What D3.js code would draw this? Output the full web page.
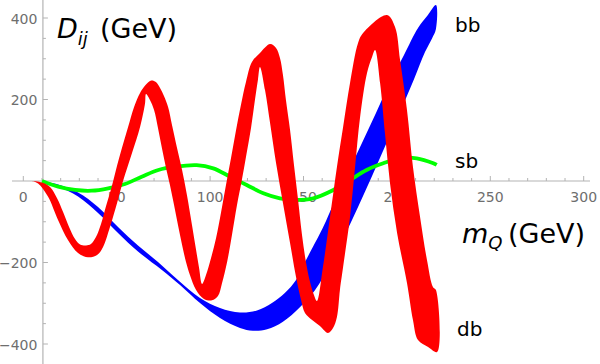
<!DOCTYPE html>
<html>
<head>
<meta charset="utf-8">
<script src="https://cdn.jsdelivr.net/npm/d3@7"></script>
<style>
  html, body { margin: 0; padding: 0; background: #fff; }
  svg { display: block; font-family: "DejaVu Sans", sans-serif; }
</style>
</head>
<body>
<div id="chart"></div>
<script>
// tick values
const xMajor = [0, 50, 100, 150, 200, 250, 300];
const yMajor = [-400, -200, 200, 400];

// green curve (sb), [mQ, D]
const sb = [
  [10, 0], [18.7, -14], [27.7, -22], [36.6, -23.8], [45.5, -17.9], [54.4, -7.4],
  [63.4, 10.6], [72.3, 27], [81.2, 35], [92.8, 39], [101.7, 31], [110.7, 10.6],
  [119.6, -9.8], [128.5, -30], [137.4, -42.5], [146.4, -46.6], [155.2, -42.5],
  [166, -22], [174.9, 2.5], [183.8, 27], [192.7, 43.4], [201.7, 55.7],
  [210.6, 55.7], [219.5, 43.4], [221.3, 39.3]
];

// blue band (bb): upper and lower edge
const bbUpper = [
  [10, 0], [18.6, -8.6], [29.3, -28.2], [40, -63.8], [50.7, -112.9], [61.4, -158.3],
  [72.1, -198.8], [82.8, -243], [94.6, -287.1], [105.3, -311.7], [116, -322.7],
  [125.1, -317.8], [133.1, -299.5], [140, -275], [146, -243], [150.8, -199],
  [155, -162], [160.3, -115.4], [167, -46.6], [173.8, 19.6], [181.3, 93.2],
  [188.8, 166.8], [196.3, 243], [203.8, 309.3], [211.3, 375.5], [216.6, 407.4],
  [220.9, 431.9]
];
const bbLower = [
  [10, 0], [18.6, -13.5], [29.3, -38], [40, -78.5], [50.7, -127.6], [61.4, -173],
  [74.2, -218.4], [83.9, -255.2], [94.6, -299.4], [105.3, -336.2], [116, -360.7],
  [122.9, -367.4], [130.5, -363.9], [139, -345.3], [148.2, -309.2], [156.2, -267.5],
  [164.2, -206], [171.7, -137.4], [179.2, -63.8], [186.7, 12.3], [194.2, 90.8],
  [201.7, 169.3], [209.2, 250.3], [215.1, 317], [218.8, 350], [220.9, 373]
];

// red band (db): upper side and lower side of the band
const dbUpper = [
  [4.7, 0], [10, -3.7], [14.3, -14.7], [18, -41.7], [21.3, -76.1], [24.5, -112.9],
  [27.7, -142.3], [30.4, -155.8], [33.6, -158.3], [36.2, -154.6], [38.9, -137.4],
  [41.6, -105.5], [44.3, -61.4], [47, -19.6], [49.6, 27], [52.8, 81], [56.1, 132.5],
  [59.3, 181.6], [62.5, 216], [65.2, 234.4], [68.4, 246.6], [71, 243], [73.2, 228.2],
  [75.3, 208.6], [77.5, 181.6], [79.6, 137.4], [82.3, 81], [85, 27], [87.6, -34.4],
  [90.3, -108], [92.5, -169.3], [94.1, -213.5], [95.7, -252.8], [97.8, -230.7],
  [100.5, -189], [103.2, -139.9], [105.8, -78.5], [108.5, -9.8], [111.2, 56.4],
  [113.9, 125.2], [116.5, 186.5], [119.2, 243], [122.4, 292], [126.7, 314.1],
  [132.1, 336.2], [135.3, 326.4], [137.4, 301.9], [139, 260.1], [140.6, 198.8],
  [142.8, 125.2], [144.9, 39.3], [147.1, -46.6], [149.2, -132.5], [151.3, -198.8],
  [153.5, -247.9], [155.6, -279.8], [157.2, -294.5], [160.4, -211], [164.2, -88.3],
  [167.9, 34.4], [171.2, 132.5], [174.9, 240.5], [179.2, 338.7], [181.9, 363.2],
  [194.7, 407.4], [199, 377.9], [201.7, 296.9], [205.4, 174.2], [208.6, 34.4],
  [212.4, -88.3], [216.1, -193.9], [219.3, -260.1], [220.9, -267.4]
];
const dbLower = [
  [4.7, 0], [7.9, -6.1], [13.2, -38], [18.6, -95.7], [23.9, -144.8], [29.3, -176.7],
  [34.6, -187.2], [39.5, -181.6], [42.7, -162], [46.4, -112.9], [50.2, -54], [53.4, 0],
  [58.2, 68.7], [62.5, 132.5], [65.2, 191.4], [65.7, 213.5], [67.8, 198.8], [70, 174.2],
  [72.1, 130.1], [74.2, 81], [76.4, 31.9], [78.5, -9.8], [80.7, -58.9], [82.8, -108],
  [85, -157.1], [87.1, -198.8], [89.2, -230.7], [92.5, -267.4], [96.7, -289.3],
  [101, -292.8], [104.2, -282.2], [106.4, -250.3], [109.1, -198.8], [111.7, -132.5],
  [114.4, -58.9], [116.9, 0], [119.2, 58.9], [121.9, 130.1], [124, 198.8], [125.6, 247.9],
  [126.7, 279.8], [129.4, 223.3], [132.1, 142.3], [135.3, 44.2], [139, -54],
  [142.8, -152.1], [146, -235.6], [148.7, -292], [150.8, -323.9], [154.6, -341.1],
  [158.8, -355.8], [163.1, -373], [165.8, -360.7], [167.9, -333.7], [169.5, -267.4],
  [171.2, -211], [174.9, -88.3], [177.6, 34.4], [180.3, 157], [184, 265], [186.7, 304.3],
  [188.3, 321.5], [191, 240.5], [193.6, 117.8], [196.3, -4.9], [200.1, -127.6],
  [205.4, -250.3], [208.6, -341.1], [211.3, -390.2], [216.7, -407.4], [221.5, -419.6]
];

const w = 600, h = 364;
const axisX = 10.5; // where the vertical axis crosses

const x = d3.scaleLinear().domain([0, 300]).range([23.3, 583.7]);
const y = d3.scaleLinear().domain([-400, 400]).range([344, 18]);

const svg = d3.select("#chart").append("svg")
  .attr("width", w)
  .attr("height", h);

const axisColor = "#b3b3b3";
const labelColor = "#6e6e6e";

// axes lines
svg.append("line")
  .attr("x1", 12).attr("x2", 590)
  .attr("y1", y(0)).attr("y2", y(0))
  .attr("stroke", axisColor).attr("stroke-width", 1.2);
svg.append("line")
  .attr("x1", x(axisX)).attr("x2", x(axisX))
  .attr("y1", 0).attr("y2", h)
  .attr("stroke", axisColor).attr("stroke-width", 1.2);

// x ticks
const xMinor = d3.range(0, 301, 10).filter(v => v % 50 !== 0);
svg.selectAll(".xminor").data(xMinor).enter().append("line")
  .attr("x1", d => x(d)).attr("x2", d => x(d))
  .attr("y1", y(0)).attr("y2", y(0) - 3)
  .attr("stroke", axisColor);
svg.selectAll(".xmajor").data(xMajor).enter().append("line")
  .attr("x1", d => x(d)).attr("x2", d => x(d))
  .attr("y1", y(0)).attr("y2", y(0) - 5)
  .attr("stroke", axisColor);
svg.selectAll(".xlab").data(xMajor).enter().append("text")
  .attr("x", d => x(d))
  .attr("y", y(0) + 20.5)
  .attr("text-anchor", "middle")
  .attr("fill", labelColor)
  .style("font-size", "14px")
  .text(d => d);

// y ticks
const yMinor = d3.range(-400, 401, 50).filter(v => v % 200 !== 0);
svg.selectAll(".yminor").data(yMinor).enter().append("line")
  .attr("x1", x(axisX)).attr("x2", x(axisX) + 3)
  .attr("y1", d => y(d)).attr("y2", d => y(d))
  .attr("stroke", axisColor);
svg.selectAll(".ymajor").data(yMajor).enter().append("line")
  .attr("x1", x(axisX)).attr("x2", x(axisX) + 5)
  .attr("y1", d => y(d)).attr("y2", d => y(d))
  .attr("stroke", axisColor);
svg.selectAll(".ylab").data(yMajor).enter().append("text")
  .attr("x", x(axisX) - 5.5)
  .attr("y", d => y(d) + 5.5)
  .attr("text-anchor", "end")
  .attr("fill", labelColor)
  .style("font-size", "14px")
  .text(d => d < 0 ? "\u2212" + Math.abs(d) : d);

// bands
const outline = d3.line()
  .x(d => x(d[0]))
  .y(d => y(d[1]))
  .curve(d3.curveCatmullRomClosed.alpha(0.5));

function band(upper, lower) {
  return upper.concat(lower.slice().reverse());
}

svg.append("path")
  .attr("d", outline(band(bbUpper, bbLower)))
  .attr("fill", "#0000ff");

svg.append("path")
  .datum(sb)
  .attr("d", d3.line().x(d => x(d[0])).y(d => y(d[1])).curve(d3.curveCatmullRom.alpha(0.5)))
  .attr("fill", "none")
  .attr("stroke", "#00ff00")
  .attr("stroke-width", 3.8);

svg.append("path")
  .attr("d", outline(band(dbUpper, dbLower)))
  .attr("fill", "#ff0000");

// labels
const title = svg.append("text")
  .attr("x", 57).attr("y", 38)
  .style("font-size", "27px")
  .attr("fill", "#000");
title.append("tspan").style("font-style", "italic").text("D");
title.append("tspan").style("font-style", "italic").style("font-size", "18px")
  .attr("dy", 7).text("ij");
title.append("tspan").attr("x", 100).attr("dy", -7).text("(GeV)");

const xlab = svg.append("text")
  .attr("x", 462).attr("y", 243)
  .style("font-size", "27px")
  .attr("fill", "#000");
xlab.append("tspan").style("font-style", "italic").text("m");
xlab.append("tspan").style("font-style", "italic").style("font-size", "18px")
  .attr("dy", 6).text("Q");
xlab.append("tspan").attr("x", 508).attr("dy", -6).text("(GeV)");

svg.append("text").attr("x", 455).attr("y", 32).style("font-size", "20px").text("bb");
svg.append("text").attr("x", 455).attr("y", 168).style("font-size", "20px").text("sb");
svg.append("text").attr("x", 457).attr("y", 336).style("font-size", "20px").text("db");
</script>
</body>
</html>
